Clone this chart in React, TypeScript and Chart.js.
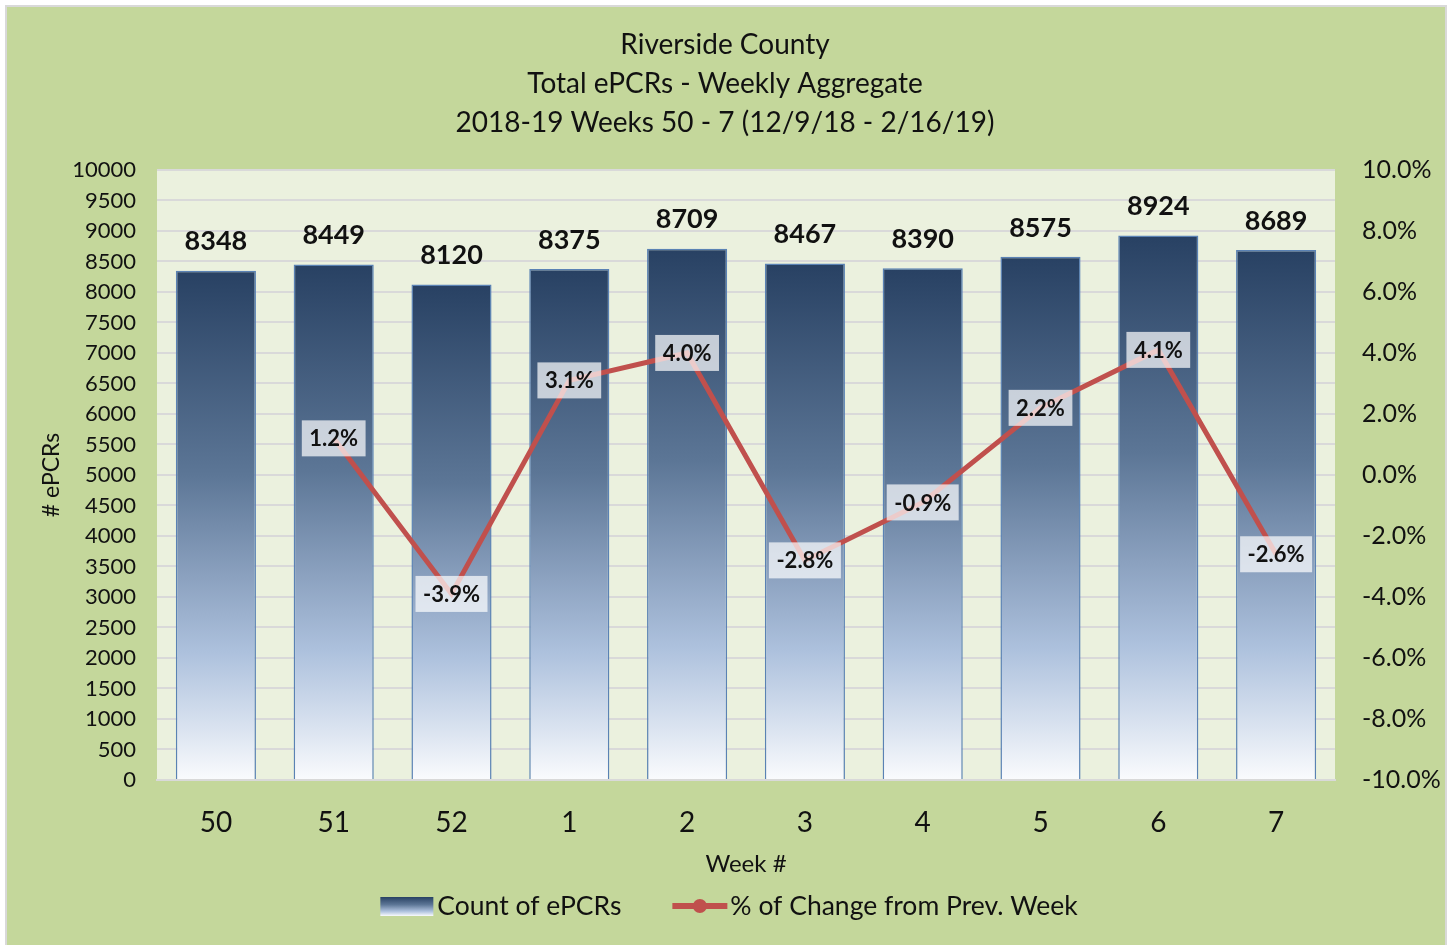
import React, { useEffect, useRef } from "react";
import { Chart, registerables } from "chart.js";

Chart.register(...registerables);

const weeks = ["50", "51", "52", "1", "2", "3", "4", "5", "6", "7"];
const counts = [8348, 8449, 8120, 8375, 8709, 8467, 8390, 8575, 8924, 8689];
const pctChange: (number | null)[] = [null, 1.2, -3.9, 3.1, 4.0, -2.8, -0.9, 2.2, 4.1, -2.6];
const titleLines = [
  "Riverside County",
  "Total ePCRs - Weekly Aggregate",
  "2018-19 Weeks 50 - 7 (12/9/18 - 2/16/19)",
];
const countSeriesName = "Count of ePCRs";
const pctSeriesName = "% of Change from Prev. Week";
const leftAxisTitle = "# ePCRs";
const xAxisTitle = "Week #";

const FONT = "Lato";
const LINE_COLOR = "#c0504d";

function barGradient(ctx: CanvasRenderingContext2D, top: number, bottom: number) {
  const g = ctx.createLinearGradient(0, top, 0, bottom);
  g.addColorStop(0, "#284163");
  g.addColorStop(0.4, "#5c7696");
  g.addColorStop(0.6, "#8ba1bf");
  g.addColorStop(0.75, "#adc1dd");
  g.addColorStop(0.9, "#dae3f0");
  g.addColorStop(1, "#fafbfd");
  return g;
}

const backgroundPlugin = {
  id: "bgPlugin",
  beforeDraw(chart: any) {
    const ctx = chart.ctx as CanvasRenderingContext2D;
    const { width, height } = chart;
    ctx.save();
    ctx.fillStyle = "#ffffff";
    ctx.fillRect(0, 0, width, height);
    ctx.fillStyle = "#c4d79b";
    ctx.fillRect(7, 7, 1438, 938);
    ctx.strokeStyle = "#d9d9d9";
    ctx.lineWidth = 2;
    ctx.strokeRect(6, 6, 1440, 942);
    const a = chart.chartArea;
    ctx.fillStyle = "#ebf1de";
    ctx.fillRect(a.left, a.top, a.right - a.left, a.bottom - a.top);
    ctx.restore();
  },
};

const labelsPlugin = {
  id: "labelsPlugin",
  afterDatasetsDraw(chart: any) {
    const ctx = chart.ctx as CanvasRenderingContext2D;
    ctx.save();
    const barMeta = chart.getDatasetMeta(0);
    ctx.font = `bold 27px ${FONT}`;
    ctx.fillStyle = "#111111";
    ctx.textAlign = "center";
    ctx.textBaseline = "middle";
    barMeta.data.forEach((el: any, i: number) => {
      ctx.fillText(String(counts[i]), el.x, el.y - 29);
    });
    const lineMeta = chart.getDatasetMeta(1);
    ctx.font = `bold 22px ${FONT}`;
    lineMeta.data.forEach((el: any, i: number) => {
      const v = pctChange[i];
      if (v === null || v === undefined) return;
      const txt = v.toFixed(1) + "%";
      const w = ctx.measureText(txt).width + 15;
      const h = 36;
      ctx.fillStyle = "rgba(255,255,255,0.7)";
      ctx.fillRect(el.x - w / 2, el.y - h / 2, w, h);
      ctx.fillStyle = "#111111";
      ctx.fillText(txt, el.x, el.y + 1);
    });
    ctx.restore();
  },
};

const legendPlugin = {
  id: "customLegend",
  afterDraw(chart: any) {
    const ctx = chart.ctx as CanvasRenderingContext2D;
    ctx.save();
    ctx.font = `26.5px ${FONT}`;
    const t1 = ctx.measureText(countSeriesName).width;
    const t2 = ctx.measureText(pctSeriesName).width;
    const boxW = 53, gap1 = 4, gapItems = 51, iconW = 55, gap2 = 3;
    const total = boxW + gap1 + t1 + gapItems + iconW + gap2 + t2;
    let x = 729 - total / 2;
    const cy = 906;
    ctx.fillStyle = barGradient(ctx, cy - 9, cy + 10);
    ctx.fillRect(x, cy - 9, boxW, 19);
    x += boxW + gap1;
    ctx.fillStyle = "#111111";
    ctx.textAlign = "left";
    ctx.textBaseline = "middle";
    ctx.fillText(countSeriesName, x, cy);
    x += t1 + gapItems;
    ctx.strokeStyle = LINE_COLOR;
    ctx.lineWidth = 6;
    ctx.beginPath();
    ctx.moveTo(x, cy);
    ctx.lineTo(x + iconW, cy);
    ctx.stroke();
    ctx.fillStyle = LINE_COLOR;
    ctx.beginPath();
    ctx.arc(x + iconW / 2, cy, 7, 0, Math.PI * 2);
    ctx.fill();
    x += iconW + gap2;
    ctx.fillStyle = "#111111";
    ctx.fillText(pctSeriesName, x, cy);
    ctx.restore();
  },
};

export default function App() {
  const canvasRef = useRef<HTMLCanvasElement | null>(null);

  useEffect(() => {
    const canvas = canvasRef.current;
    if (!canvas) return;
    const chart = new Chart(canvas, {
      type: "bar",
      data: {
        labels: weeks,
        datasets: [
          {
            type: "bar",
            label: countSeriesName,
            data: counts,
            yAxisID: "y",
            order: 2,
            backgroundColor: (c: any) => {
              const ch = c.chart;
              const ys = ch.scales?.y;
              if (!ys || typeof c.raw !== "number") return "#5c7696";
              const top = ys.getPixelForValue(c.raw);
              const bottom = ys.getPixelForValue(0);
              if (!isFinite(top) || !isFinite(bottom) || bottom <= top) return "#5c7696";
              return barGradient(ch.ctx, top, bottom);
            },
            borderColor: "#5a82b4",
            borderWidth: 1.5,
            barPercentage: 0.68,
            categoryPercentage: 1,
          } as any,
          {
            type: "line",
            label: pctSeriesName,
            data: pctChange,
            yAxisID: "y1",
            order: 1,
            borderColor: LINE_COLOR,
            backgroundColor: LINE_COLOR,
            borderWidth: 5,
            pointRadius: 0,
            tension: 0,
          } as any,
        ],
      },
      options: {
        responsive: false,
        animation: false,
        layout: { padding: { left: 2, right: 4, top: 0, bottom: 63 } },
        plugins: {
          legend: { display: false },
          tooltip: { enabled: false },
          title: {
            display: true,
            text: titleLines,
            color: "#111111",
            font: { family: FONT, size: 28, weight: "normal", lineHeight: 1.38 },
            padding: { top: 26, bottom: 28 },
          },
        },
        scales: {
          x: {
            grid: { display: false, drawTicks: false },
            border: { display: true, color: "#d9d9d9", width: 2 },
            ticks: { color: "#111111", font: { family: FONT, size: 28 }, padding: 26 },
            title: {
              display: true,
              text: xAxisTitle,
              color: "#111111",
              font: { family: FONT, size: 24 },
              padding: { top: 0, bottom: 3 },
            },
            afterFit: (s: any) => {
              s.height = 102;
            },
          },
          y: {
            position: "left",
            min: 0,
            max: 10000,
            grid: { color: "#d9d9d9", lineWidth: 2, drawTicks: false },
            border: { display: false },
            ticks: {
              stepSize: 500,
              autoSkip: false,
              color: "#111111",
              font: { family: FONT, size: 22 },
              padding: 21,
              callback: (v: any) => String(v),
            },
            title: {
              display: true,
              text: leftAxisTitle,
              color: "#111111",
              font: { family: FONT, size: 23 },
              padding: { top: 36, bottom: 0 },
            },
            afterFit: (s: any) => {
              s.width = 155;
            },
          },
          y1: {
            position: "right",
            min: -10,
            max: 10,
            grid: { display: false, drawTicks: false },
            border: { display: false },
            ticks: {
              stepSize: 2,
              autoSkip: false,
              color: "#111111",
              font: { family: FONT, size: 25 },
              padding: 27,
              callback: (v: any) => Number(v).toFixed(1) + "%",
            },
            afterFit: (s: any) => {
              s.width = 113;
            },
          },
        },
      } as any,
      plugins: [backgroundPlugin, labelsPlugin, legendPlugin],
    });
    return () => chart.destroy();
  }, []);

  return (
    <div style={{ position: "fixed", left: 0, top: 0, width: 1452, height: 945 }}>
      <canvas ref={canvasRef} width={1452} height={945} />
    </div>
  );
}
